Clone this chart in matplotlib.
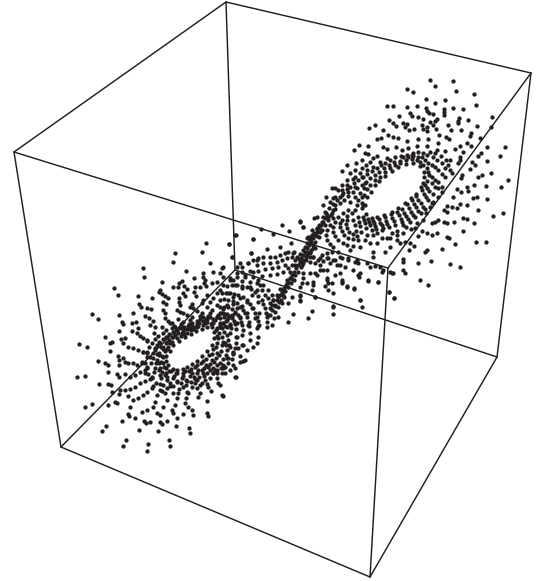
import numpy as np
import matplotlib
matplotlib.use("Agg")
import matplotlib.pyplot as plt

INK = "#231f20"

# projected cube corners
corner_x = {"tb": 226, "tl": 14, "tr": 531, "tf": 388, "bb": 235, "bl": 61, "br": 497, "bf": 370}
corner_y = {"tb": 2, "tl": 152, "tr": 73, "tf": 268, "bb": 270, "bl": 447, "br": 357, "bf": 577}
edges = [
    ("tb", "tl"), ("tb", "tr"), ("tl", "tf"), ("tr", "tf"),
    ("bb", "bl"), ("bb", "br"), ("bl", "bf"), ("br", "bf"),
    ("tb", "bb"), ("tl", "bl"), ("tr", "br"), ("tf", "bf"),
]

# lower lobe, read in 3x crop units from (60, 230)
lower_scatter = [
    (438,38),(507,43),(578,27),(527,15),(344,70),(426,66),(516,82),(572,69),(339,97),(450,99),(249,114),(252,140),
    (378,124),(163,174),(175,196),(305,156),(402,144),(235,199),(275,205),(97,252),(115,268),(176,254),(219,249),
    (58,343),(80,351),(135,320),(176,303),(115,392),(150,364),(51,440),(74,439),(118,463),(143,426),(155,485),
    (75,531),(96,522),(143,526),(185,574),(139,588),(125,604),(237,600),(293,604),(199,629),(190,649),(264,641),
    (261,662),(328,629),(329,647),(387,595),(391,608),(348,587),(398,556),(440,550),(445,557),(486,495),(490,498),
    (442,513),(453,482),(524,440),(528,440),(556,390),(548,392),
]
lower_streaks = [
    (430,130),(428,140),(435,150),(432,158),(365,152),(358,160),(372,168),(380,178),(338,170),(355,172),(300,180),
    (297,187),(305,192),(315,197),(325,203),(370,188),(375,197),(405,172),(402,186),(408,198),(395,222),(390,230),
    (400,235),(420,170),(437,168),(460,125),(485,115),(490,110),(480,130),(490,140),(455,158),(470,155),(490,165),
    (480,180),(470,190),(440,195),(430,210),(425,220),(450,215),(460,205),(358,205),(356,215),(360,225),(350,240),
    (360,245),(370,250),(310,215),(318,222),(308,240),(315,248),(238,222),(242,232),(262,233),(272,238),(255,258),
    (268,265),(278,272),(270,285),(285,290),(315,265),(325,272),(335,280),(345,290),(185,275),(190,283),(215,278),
    (228,275),(215,303),(230,310),(240,318),(250,325),(262,330),(235,295),(183,327),(195,325),(155,335),(150,340),
    (190,340),(205,352),(218,355),(235,360),(250,365),(262,370),(175,378),(178,390),(190,383),(135,400),(145,405),
    (178,404),(195,397),(205,398),(218,400),(230,405),(245,395),(170,432),(178,440),(195,432),(210,440),(225,435),
    (240,425),(255,420),(145,462),(152,465),(180,480),(178,492),(195,480),(210,477),(225,470),(240,460),(255,452),
    (270,447),(205,497),(220,510),(235,505),(250,495),(262,485),(275,475),(165,515),(172,520),(210,530),(205,553),
    (208,558),(225,565),(245,545),(262,540),(252,572),(258,580),(270,577),(300,575),(305,582),(320,573),(290,550),
    (300,555),(280,530),(285,515),(290,495),(300,480),(315,490),(320,510),(310,530),(340,550),(335,540),(350,565),
    (370,552),(345,525),(350,505),(355,490),(375,520),(385,530),(395,540),(378,505),(385,490),(415,500),(420,490),
    (420,465),(445,470),(475,460),(480,465),(460,430),(470,420),(485,430),(490,415),(510,420),(525,415),(540,395),
    (500,385),(520,370),(535,355),(550,345),(510,350),(495,340),(530,320),(545,315),(570,330),(580,350),(590,340),
    (560,360),(545,110),(565,100),(590,90),(530,130),(555,135),(580,125),(595,150),(510,150),(525,165),(545,175),
    (570,170),(590,180),(505,190),(520,200),(540,205),
]
lower_rings = [
    (462,305),(455,290),(440,292),(425,297),(408,304),(392,312),(375,322),(358,332),(340,345),(330,362),(318,378),
    (318,392),(325,405),(338,416),(352,420),(368,416),(382,411),(397,403),(412,393),(427,378),(442,363),(455,345),(463,325),
    (472,295),(455,278),(435,280),(415,288),(398,296),(380,308),(362,318),(335,335),(325,350),(315,362),(307,378),
    (303,395),(312,412),(328,423),(348,430),(368,428),(388,422),(405,412),(422,400),(438,388),(455,372),(468,352),(475,325),(478,308),
    (488,280),(465,270),(440,275),(418,278),(395,288),(375,298),(355,310),(335,322),(318,338),(303,352),(292,372),
    (288,398),(297,420),(315,435),(340,445),(365,445),(390,438),(412,428),(432,415),(450,402),(468,385),(482,362),(490,335),(492,305),
    (505,265),(475,255),(445,258),(420,268),(395,280),(372,290),(350,300),(328,312),(308,327),(290,345),(278,368),
    (272,398),(282,425),(302,445),(330,458),(362,460),(392,455),(418,442),(440,430),(460,415),(480,398),(497,375),(507,345),(510,310),(510,285),
    (525,248),(490,238),(455,240),(425,250),(395,262),(368,275),(342,287),(318,300),(295,318),(275,338),(262,365),
    (255,398),(265,432),(288,458),(320,473),(358,477),(395,470),(425,458),(450,445),(472,428),(495,410),(515,388),(525,355),(528,320),(530,280),
    (480,285),(460,278),(430,272),(405,290),(385,298),(365,308),(340,320),(325,335),(310,358),(298,375),(296,400),
    (305,425),(322,440),(352,452),(378,450),(402,440),(425,420),(445,410),(462,395),(478,375),(498,345),(500,315),(500,290),
    (450,262),(470,262),(495,252),(515,258),(430,260),(410,272),(385,288),(360,295),(338,305),(318,320),(298,335),
    (285,355),(270,380),(262,412),(275,445),(310,465),(340,468),(378,465),(410,450),(432,438),(465,420),(488,405),(505,385),(518,365),
]
lower_fill = [
    (468,300),(452,283),(430,284),(412,292),(392,300),(372,312),(350,325),(330,340),(320,358),(310,382),(308,400),
    (318,415),(333,424),(352,428),(375,423),(392,417),(410,405),(428,392),(446,375),(460,358),(470,338),(470,318),
    (480,290),(460,268),(438,268),(412,282),(390,290),(368,302),(345,315),(326,330),(310,350),(298,368),(292,390),
    (300,415),(318,430),(342,438),(370,438),(395,430),(415,420),(438,405),(455,390),(472,370),(485,345),(487,320),
    (498,272),(470,262),(442,266),(415,275),(388,282),(365,292),(342,305),(320,322),(300,340),(284,360),(280,385),
    (285,415),(300,435),(322,450),(352,455),(380,452),(405,448),(430,430),(450,420),(470,405),(490,388),(502,360),(505,330),
    (515,255),(482,248),(450,248),(420,258),(390,270),(362,283),(335,295),(310,308),(285,328),(268,350),(260,382),
    (262,415),(275,442),(300,462),(330,468),(368,470),(405,460),(435,450),(460,430),(482,415),(505,398),(520,372),(528,340),
    (530,235),(500,225),(470,225),(440,232),(410,242),(380,255),(355,268),(330,280),(305,292),(282,310),(262,332),
    (248,365),(245,398),(255,430),(278,468),(305,482),(340,490),(380,485),(412,475),(440,462),(470,445),(495,430),
    (520,405),(540,378),(545,345),(548,300),(540,260),(520,222),(545,228),(560,250),(565,285),(570,310),
    (560,215),(575,235),(585,265),(590,295),(595,320),(575,195),(595,215),(598,250),(598,285),
]
# middle of the figure, read in 3x crop units from (220, 200)
mid_scatter = [
    (187,75),(240,63),(250,82),(208,92),(122,88),(158,102),(45,105),(98,116),(27,132),(180,140),(212,130),(140,148),
    (93,158),(37,170),(262,115),(270,110),
    (60,190),(52,200),(85,190),(100,180),(115,175),(130,170),(150,172),(165,170),(180,165),(195,160),(205,155),(222,157),
    (110,195),(130,190),(150,188),(170,185),(185,180),(200,175),(215,170),(65,215),(90,213),(115,213),(135,208),(155,205),
    (175,200),(195,195),(30,235),(50,230),(75,232),(100,232),(125,228),(150,225),(170,222),(190,215),(205,205),(215,195),
    (260,165),(280,170),(300,175),(320,175),(345,180),(365,175),(385,180),(410,180),(440,190),(465,197),(510,215),(520,220),
    (490,210),(270,185),(285,190),(300,195),(330,190),(350,195),(375,200),(400,210),(415,225),(445,240),(475,245),(300,210),
    (320,210),(345,225),(365,240),(365,250),(380,258),(402,265),(250,220),(270,220),(290,225),(320,235),(325,250),(315,258),
    (325,270),(338,280),(420,300),(425,322),(340,320),(338,342),(285,292),(240,260),(260,250),(280,245),(240,285),(240,302),
    (215,290),(205,310),(185,310),(275,332),(265,355),(218,343),(205,367),(175,352),(155,375),(507,275),(522,295),
]
mid_waist = [
    (170,300),(175,292),(180,285),(186,275),(192,265),(198,255),(204,245),(210,235),(216,225),(222,215),(228,205),(234,195),
    (240,185),(244,175),(250,165),(256,155),(262,145),(268,135),(274,125),(280,115),(286,105),(292,95),(298,85),(304,75),
    (232,170),(240,162),(248,150),(255,140),(262,130),(270,120),(258,170),(250,180),(262,155),(226,180),(236,178),(220,160),
    (205,260),(196,272),(188,285),(178,305),(165,318),(155,330),(145,345),(215,238),(224,225),(200,240),(210,215),(275,105),
    (280,135),(272,150),(225,195),(250,190),(270,170),(242,202),(290,85),(310,65),(316,55),(322,45),(300,95),(292,108),
    (182,300),(192,290),(175,320),(190,270),(180,268),(170,285),(160,300),(155,315),(200,250),(212,250),(222,240),(235,215),
    (245,195),(258,180),(270,160),(278,145),(285,125),(296,112),(305,90),(315,75),(325,60),(332,45),(340,30),(345,15),
]
mid_arcs = [
    (0,340),(10,340),(20,342),(28,348),(35,355),(41,364),(45,372),(48,388),
    (0,322),(12,320),(25,322),(35,328),(45,335),(53,345),(60,355),(63,365),(65,375),
    (0,300),(12,298),(25,300),(38,304),(50,310),(60,320),(70,330),(76,340),(82,352),(86,365),(88,378),
    (5,280),(18,278),(30,278),(43,281),(55,285),(68,292),(80,300),(90,312),(100,325),(106,338),(110,350),(113,364),(115,378),
    (20,258),(35,255),(50,255),(65,258),(80,262),(93,268),(105,275),(115,287),(125,300),(130,312),(135,325),(138,338),(140,350),(142,365),(142,380),
    (40,240),(65,242),(90,245),(110,250),(130,255),(145,270),(155,285),(160,300),(165,315),(165,335),(162,355),
    (135,285),(145,295),(150,310),(150,325),(150,345),(125,270),(120,255),
    (0,355),(12,352),(22,360),(30,372),(32,385),(0,370),(10,368),(16,378),(0,382),(6,385),
]
# upper lobe, read in 3x crop units from (290, 70)
upper_scatter = [
    (419,30),(488,34),(435,49),(499,62),(352,57),(370,67),(553,73),(557,104),(408,88),(435,99),(465,90),(291,109),(310,108),
    (351,110),(380,107),(408,115),(412,122),(416,130),(462,118),(462,126),(462,134),(488,113),(518,117),(360,130),(365,138),
    (328,137),(384,140),(430,133),(442,148),(398,147),(420,155),(434,153),(507,143),(505,152),(503,160),(535,149),(562,167),
    (607,141),(603,172),(298,150),(255,164),(237,173),(278,180),(308,160),(318,168),(338,160),(350,162),(345,172),(358,180),
    (373,178),(395,165),(410,170),(400,178),(412,183),(430,165),(437,178),(448,195),(475,165),(482,180),(468,200),(478,208),
    (514,180),(543,188),(541,198),(570,205),(530,220),(543,227),(520,245),(510,262),(505,278),(572,248),(565,258),(590,232),
    (644,230),(631,257),(590,273),(545,275),(556,284),(540,298),(515,315),(512,325),(575,315),(565,320),(603,310),(655,330),
    (634,350),(587,348),(552,345),(530,350),(535,362),(500,358),(512,365),(490,380),(560,382),(548,385),(590,388),(511,403),
    (530,405),(500,415),(563,420),(610,438),(638,428),(520,445),(530,447),(552,460),(518,483),(557,517),(587,517),(496,521),
    (456,536),(480,581),(510,590),(423,572),(383,578),(340,575),(390,630),(413,645),(344,608),(307,608),(297,665),(312,685),
    (470,500),(478,505),(485,410),(472,407),(462,420),(472,425),(493,455),(470,460),(462,455),(445,450),(435,455),(425,460),
    (440,490),(425,495),(410,490),(395,482),(385,498),(410,540),(405,545),(357,540),(360,520),(372,528),(345,515),(330,520),
    (250,545),(285,545),(300,530),(240,520),(210,530),(275,505),(320,495),(275,480),
    (208,226),(192,240),(235,228),(260,207),(272,205),(295,195),(310,200),(325,205),(350,213),(385,207),(415,208),(445,220),
    (465,242),(495,237),(510,228),(225,250),(235,252),(250,265),(262,258),(280,230),(290,238),(318,232),(335,240),(355,235),
    (380,228),(412,228),(440,240),(480,270),(510,270),(485,310),(170,285),(155,302),(197,280),(215,270),(240,275),(228,285),
    (195,300),(215,295),(180,310),(125,355),(135,355),(155,345),(145,360),(170,330),(195,320),(215,320),(108,382),(100,405),
    (120,395),(135,380),(155,375),(175,365),(195,350),(225,340),
    (80,440),(72,445),(30,455),(40,472),(65,480),(55,500),(340,600),(338,568),(210,610),(208,620),(235,632),(265,636),
    (130,570),(115,565),(100,572),(150,610),(155,635),(170,650),(192,656),(210,690),(30,690),(130,708),(75,680),(30,678),
    (110,630),(125,640),(70,645),(65,660),(35,640),(40,625),(75,610),(100,600),(150,585),(195,575),(175,565),(205,580),
    (250,560),(240,590),(270,590),(275,605),
]
upper_band = [
    (100,440),(108,428),(118,415),(128,402),(140,390),(150,380),(160,368),(170,358),(180,350),(192,340),(205,330),(220,320),
    (232,312),(245,304),(260,295),(272,286),(285,278),(300,270),(315,262),(332,258),(350,255),(365,255),(95,455),(88,465),
    (80,478),(72,490),(65,500),(60,510),(115,440),(125,428),(135,418),(150,400),(162,390),(175,378),(190,365),(202,355),
    (215,345),(228,335),(240,325),(255,315),(268,305),(282,295),(298,285),(312,277),(330,272),(105,425),(130,385),(155,360),
    (170,345),(190,328),(210,310),(230,300),(250,290),(270,275),(290,265),(180,395),(195,380),(210,368),(222,355),(240,345),
    (255,330),(270,320),(285,305),(300,295),(315,285),(330,278),(348,270),(365,268),(205,390),(215,380),(200,405),(215,400),
    (222,375),(232,358),(215,415),(218,405),
    (225,405),(232,382),(243,365),(255,345),(268,332),(285,318),(305,302),(325,290),(348,282),(368,280),(390,288),(402,305),
    (403,322),(400,338),(392,352),(378,372),(362,385),(345,400),(325,415),(305,425),(282,435),(262,442),(245,445),(228,432),
]
upper_rings = [
    (395,262),(405,270),(415,278),(425,285),(435,292),(445,300),(455,312),(465,320),(380,270),(390,276),(400,285),(410,295),
    (415,305),(418,315),(425,322),(435,330),(445,335),(412,332),(425,340),(435,350),(405,345),(412,355),
    (418,362),(428,372),(395,360),(402,372),(408,382),(415,390),(425,398),(378,378),(385,390),(392,400),(400,410),(405,418),
    (365,390),(372,402),(378,412),(385,422),(392,430),(352,402),(358,414),(364,425),(370,436),(375,442),(335,418),(342,428),
    (348,438),(354,448),(360,455),(362,478),(322,425),(326,436),(332,446),(337,456),(340,465),(302,432),(307,443),(312,454),
    (315,465),(322,482),(285,442),(288,452),(292,462),(298,472),(305,488),(268,448),(270,458),(275,466),(280,475),(250,452),
    (252,460),(255,468),(258,477),(262,490),(235,448),(238,456),(240,465),(245,480),(248,495),(220,440),(222,450),(225,460),
    (228,475),(232,495),(205,440),(208,455),(210,468),(212,485),(190,450),(195,465),(198,482),(200,498),
    (170,450),(168,462),(172,475),(178,485),(188,492),(150,460),(150,472),(155,484),(162,495),(175,503),(190,508),(205,510),
    (130,470),(130,485),(135,498),(145,510),(158,518),(172,525),(190,528),(110,480),(108,495),(112,510),(120,522),(130,532),
    (340,262),(355,262),(370,258),(385,262),(398,250),(410,255),(430,262),(442,270),(455,278),(465,295),(385,245),(370,250),
    (420,245),(435,250),(452,258),(468,270),(475,285),(480,300),(445,355),(455,350),(455,365),(445,380),(430,395),(420,410),
    (408,430),(398,450),(380,460),(375,475),(348,470),(340,490),(320,510),(290,505),(300,505),(260,520),(225,510),(180,540),
    (145,545),(150,560),(125,545),(110,550),(95,555),(85,570),(70,560),(75,535),(60,545),
    (145,440),(160,430),(175,420),(135,455),(120,465),(155,450),(170,438),(185,428),(195,420),(130,445),
]


def from_crop(points, x0, y0):
    arr = np.array(points, dtype=float)
    return x0 + arr[:, 0] / 3, y0 + arr[:, 1] / 3


fig = plt.figure(figsize=(5.44, 5.81), dpi=100)
ax = fig.add_axes([0, 0, 1, 1])
ax.set_xlim(0, 544)
ax.set_ylim(581, 0)
ax.axis("off")

for a, b in edges:
    ax.plot([corner_x[a], corner_x[b]], [corner_y[a], corner_y[b]], color=INK, linewidth=1.05, solid_capstyle="round")

groups = [
    (lower_scatter, 60, 230), (lower_streaks, 60, 230), (lower_rings, 60, 230), (lower_fill, 60, 230),
    (mid_scatter, 220, 200), (mid_waist, 220, 200), (mid_arcs, 220, 200),
    (upper_scatter, 290, 70), (upper_band, 290, 70), (upper_rings, 290, 70),
]
for points, x0, y0 in groups:
    xs, ys = from_crop(points, x0, y0)
    ax.scatter(xs, ys, s=9.5, color=INK, linewidths=0, zorder=3)

fig.savefig("out.png", dpi=100)
